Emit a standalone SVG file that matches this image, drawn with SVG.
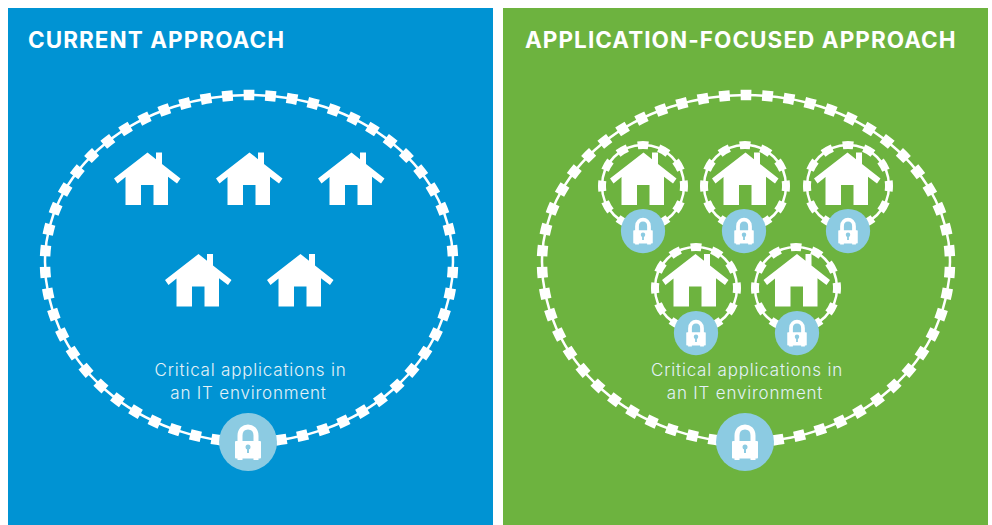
<svg xmlns="http://www.w3.org/2000/svg" width="992" height="525" viewBox="0 0 992 525">
<style>
.title{font-family:"Inter","Liberation Sans",sans-serif;font-weight:700;font-size:22.5px;letter-spacing:1.05px;fill:#fff}
.body{font-family:"Inter","Liberation Sans",sans-serif;font-weight:300;font-size:17px;letter-spacing:.8px;fill:#e3f2f8;text-anchor:middle}
.line{fill:none;stroke:#fff}
.big1{stroke-width:2.5}
.big2{stroke-width:10.5;stroke-dasharray:.5 .5;stroke-dashoffset:.25}
.sm1{stroke-width:2.5}
.sm2{stroke-width:8;stroke-dasharray:.5 .5;stroke-dashoffset:.25}
.disc{fill:#8ccbe2}
</style>
<defs>
<path id="outer" pathLength="55" d="M249 95A204 167 0 0 1 453 262A204 180 0 0 1 249 442A204 180 0 0 1 45 262A204 167 0 0 1 249 95Z"/>
<circle id="ring" r="41" pathLength="12"/>
<path id="house" fill="#fff" d="M0 0L8.500 6.700V0H14.500V11.400L33 26L29.500 31L20.500 24.200V52.500H6V32.500H-6.500V52.500H-22V24.500L-30 31L-33.500 26Z"/>
<g id="lockBig">
<path fill="none" stroke="#fff" stroke-width="5" d="M-8 18V-6.500C-8 -18 8 -18 8 -6.500V18"/>
<rect x="-13" y="-1" width="26" height="17.500" rx="1" fill="#fff"/>
</g>
</defs>
<rect x="8" y="8" width="485" height="517" fill="#0093d3"/>
<rect x="503" y="8" width="485" height="517" fill="#6db33f"/>
<text class="title" x="28" y="48">CURRENT APPROACH</text>
<text class="title" x="525" y="48">APPLICATION-FOCUSED APPROACH</text>
<g id="connectors">
<use href="#outer" class="line big1"/>
<use href="#outer" class="line big2"/>
<use href="#outer" x="497" class="line big1"/>
<use href="#outer" x="497" class="line big2"/>
<g id="small-rings">
<use href="#ring" x="643" y="186" class="line sm1"/><use href="#ring" x="643" y="186" class="line sm2"/>
<use href="#ring" x="745" y="186" class="line sm1"/><use href="#ring" x="745" y="186" class="line sm2"/>
<use href="#ring" x="848" y="186" class="line sm1"/><use href="#ring" x="848" y="186" class="line sm2"/>
<use href="#ring" x="696" y="288" class="line sm1"/><use href="#ring" x="696" y="288" class="line sm2"/>
<use href="#ring" x="796" y="288" class="line sm1"/><use href="#ring" x="796" y="288" class="line sm2"/>
</g>
</g>
<g id="left-houses">
<use id="lh1" href="#house" x="147.500" y="152.500"/>
<use id="lh2" href="#house" x="249.500" y="152.500"/>
<use id="lh3" href="#house" x="351.500" y="152.500"/>
<use id="lh4" href="#house" x="198.500" y="254"/>
<use id="lh5" href="#house" x="300.500" y="254"/>
</g>
<g id="right-houses">
<use id="rh1" href="#house" x="643.500" y="152.500"/>
<use id="rh2" href="#house" x="745.500" y="152.500"/>
<use id="rh3" href="#house" x="847.500" y="152.500"/>
<use id="rh4" href="#house" x="695.500" y="254"/>
<use id="rh5" href="#house" x="797" y="254"/>
</g>
<g id="left-lock">
<circle class="disc" cx="248" cy="442" r="29"/>
<use href="#lockBig" x="248" y="442"/>
<circle class="disc" cx="248" cy="447" r="2.500"/><rect class="disc" x="247" y="447" width="2" height="6"/>
</g>
<g id="right-lock">
<circle class="disc" cx="745" cy="442" r="29"/>
<use href="#lockBig" x="745" y="442"/>
<circle class="disc" cx="745" cy="447" r="2.500"/><rect class="disc" x="744" y="447" width="2" height="6"/>
</g>
<g id="small-locks">
<g id="sl1" transform="translate(643,231) scale(.75)"><circle class="disc" r="29.500"/><use href="#lockBig"/><circle class="disc" cy="5" r="3"/><rect class="disc" x="-1.200" y="5" width="2.400" height="7"/></g>
<g id="sl2" transform="translate(744,231) scale(.75)"><circle class="disc" r="29.500"/><use href="#lockBig"/><circle class="disc" cy="5" r="3"/><rect class="disc" x="-1.200" y="5" width="2.400" height="7"/></g>
<g id="sl3" transform="translate(848,231) scale(.75)"><circle class="disc" r="29.500"/><use href="#lockBig"/><circle class="disc" cy="5" r="3"/><rect class="disc" x="-1.200" y="5" width="2.400" height="7"/></g>
<g id="sl4" transform="translate(696,333) scale(.75)"><circle class="disc" r="29.500"/><use href="#lockBig"/><circle class="disc" cy="5" r="3"/><rect class="disc" x="-1.200" y="5" width="2.400" height="7"/></g>
<g id="sl5" transform="translate(797,333) scale(.75)"><circle class="disc" r="29.500"/><use href="#lockBig"/><circle class="disc" cy="5" r="3"/><rect class="disc" x="-1.200" y="5" width="2.400" height="7"/></g>
</g>
<text class="body" x="250.500" y="376">Critical applications in</text>
<text class="body" x="248.500" y="399">an IT environment</text>
<text class="body" x="747" y="376">Critical applications in</text>
<text class="body" x="745" y="399">an IT environment</text>
</svg>
